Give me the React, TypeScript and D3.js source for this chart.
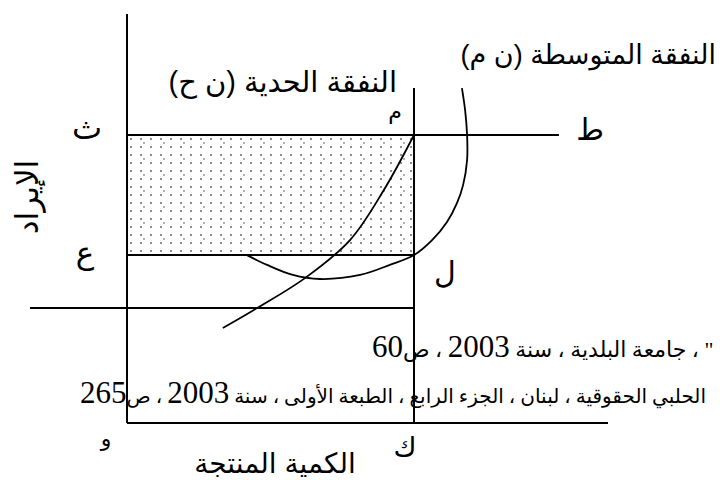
import React from "react";
import * as d3 from "d3";

// Quantities (x) and cost/revenue levels (y) in chart units
const Q_STAR = 10; // ك
const PRICE = 10; // ث – ط
const AC_LEVEL = 5.83; // ع – ل
const STRAY_LINE = 3.99;
const X_AXIS_END = 16.76;
const Y_AXIS_TOP = 14.2;
const Q_LINE_TOP = 11.63;
const PRICE_LINE_END = 15.05;
const STRAY_LINE_START = -3.38;

// Marginal cost curve (ن ح)
const mcQ = [3.34, 4.53, 6.2, 7.77, 8.95, 10];
const mcP = [3.3, 3.99, 5.03, 6.35, 8.09, 10];

// Average cost curve (ن م)
const acQ = [4.18, 4.88, 5.78, 6.72, 8.12, 9.16, 10, 10.63, 11.15, 11.5, 11.71, 11.85, 11.85, 11.78, 11.67];
const acP = [5.83, 5.49, 5.14, 5.0, 5.14, 5.49, 5.83, 6.35, 6.98, 7.64, 8.26, 9.13, 10, 10.87, 11.63];

// Labels
const mcLabel = "النفقة الحدية (ن ح)";
const acLabel = "النفقة المتوسطة (ن م)";
const yAxisLabel = "الإيراد";
const xAxisLabel = "الكمية المنتجة";
const citation1 = [
  { t: "\" ، جامعة البلدية ، سنة ", num: false },
  { t: "2003", num: true },
  { t: " ، ص", num: false },
  { t: "60", num: true },
];
const citation2 = [
  { t: "الحلبي الحقوقية ، لبنان ، الجزء الرابع ، الطبعة الأولى ، سنة ", num: false },
  { t: "2003", num: true },
  { t: " ، ص", num: false },
  { t: "265", num: true },
];

const W = 720;
const H = 480;

export default function App() {
  const x = d3.scaleLinear().domain([0, 10]).range([127, 414]);
  const y = d3.scaleLinear().domain([0, 10]).range([423, 135]);

  const line = d3
    .line<[number, number]>()
    .x((d) => x(d[0]))
    .y((d) => y(d[1]))
    .curve(d3.curveCatmullRom.alpha(0.5));

  const mcPts = mcQ.map((q, i) => [q, mcP[i]] as [number, number]);
  const acPts = acQ.map((q, i) => [q, acP[i]] as [number, number]);

  const sans = "'Liberation Sans', 'DejaVu Sans', sans-serif";
  const serif = "'Liberation Serif', 'DejaVu Sans', serif";
  const stroke = "#000";
  const dot = "#666";

  return (
    <svg
      width={W}
      height={H}
      viewBox={`0 0 ${W} ${H}`}
      style={{ position: "absolute", left: 0, top: 0, background: "#fff", overflow: "hidden" }}
    >
      <defs>
        <pattern id="dots" width={20} height={16} patternUnits="userSpaceOnUse" x={x(0)} y={y(PRICE)}>
          <circle cx={4} cy={4} r={1} fill={dot} />
          <circle cx={14} cy={4} r={1} fill={dot} />
          <circle cx={4} cy={12} r={1} fill={dot} />
          <circle cx={14} cy={12} r={1} fill={dot} />
          <circle cx={17} cy={8} r={0.9} fill="#888" />
        </pattern>
      </defs>
      <rect width={W} height={H} fill="#fff" />

      {/* shaded profit area */}
      <rect
        x={x(0)}
        y={y(PRICE)}
        width={x(Q_STAR) - x(0)}
        height={y(AC_LEVEL) - y(PRICE)}
        fill="url(#dots)"
      />

      {/* citation text */}
      <text x={372} y={357} direction="rtl" textAnchor="end" fontFamily={serif} fill="#000">
        {citation1.map((s, i) => (
          <tspan key={i} fontSize={s.num ? 31 : 22}>
            {s.t}
          </tspan>
        ))}
      </text>
      <text x={80} y={403} direction="rtl" textAnchor="end" fontFamily={serif} fill="#000">
        {citation2.map((s, i) => (
          <tspan key={i} fontSize={s.num ? 31 : 20}>
            {s.t}
          </tspan>
        ))}
      </text>

      {/* axes */}
      <line x1={x(0)} y1={y(0)} x2={x(0)} y2={y(Y_AXIS_TOP)} stroke={stroke} strokeWidth={2} />
      <line x1={x(0)} y1={y(0)} x2={x(X_AXIS_END)} y2={y(0)} stroke={stroke} strokeWidth={2} />

      {/* price line ث – ط */}
      <line x1={x(0)} y1={y(PRICE)} x2={x(PRICE_LINE_END)} y2={y(PRICE)} stroke={stroke} strokeWidth={2} />
      {/* AC level line ع – ل */}
      <line x1={x(0)} y1={y(AC_LEVEL)} x2={x(Q_STAR)} y2={y(AC_LEVEL)} stroke={stroke} strokeWidth={2} />
      {/* stray horizontal line */}
      <line
        x1={x(STRAY_LINE_START)}
        y1={y(STRAY_LINE)}
        x2={x(Q_STAR)}
        y2={y(STRAY_LINE)}
        stroke={stroke}
        strokeWidth={2}
      />
      {/* quantity line ك – م */}
      <line x1={x(Q_STAR)} y1={y(0)} x2={x(Q_STAR)} y2={y(Q_LINE_TOP)} stroke={stroke} strokeWidth={2} />

      {/* curves */}
      <path d={line(mcPts) || ""} fill="none" stroke={stroke} strokeWidth={1.8} />
      <path d={line(acPts) || ""} fill="none" stroke={stroke} strokeWidth={1.8} />

      {/* labels */}
      <text x={716} y={64} direction="rtl" textAnchor="start" fontFamily={sans} fontSize={27}>
        {acLabel}
      </text>
      <text x={397} y={92} direction="rtl" textAnchor="start" fontFamily={sans} fontSize={29}>
        {mcLabel}
      </text>
      <text x={395} y={119} textAnchor="middle" fontFamily={sans} fontSize={22}>
        م
      </text>
      <text x={590} y={140} textAnchor="middle" fontFamily={sans} fontSize={30}>
        ط
      </text>
      <text x={87} y={139} textAnchor="middle" fontFamily={sans} fontSize={32}>
        ث
      </text>
      <text x={85} y={263} textAnchor="middle" fontFamily={sans} fontSize={31}>
        ع
      </text>
      <text x={445} y={283} textAnchor="middle" fontFamily={sans} fontSize={30}>
        ل
      </text>
      <text x={106} y={446} textAnchor="middle" fontFamily={sans} fontSize={22}>
        و
      </text>
      <text x={405} y={457} textAnchor="middle" fontFamily={sans} fontSize={28}>
        ك
      </text>
      <text x={275} y={473} direction="rtl" textAnchor="middle" fontFamily={sans} fontSize={28}>
        {xAxisLabel}
      </text>
      <text
        transform="translate(38,197) rotate(-90)"
        direction="rtl"
        textAnchor="middle"
        fontFamily={sans}
        fontSize={31}
      >
        {yAxisLabel}
      </text>
    </svg>
  );
}
